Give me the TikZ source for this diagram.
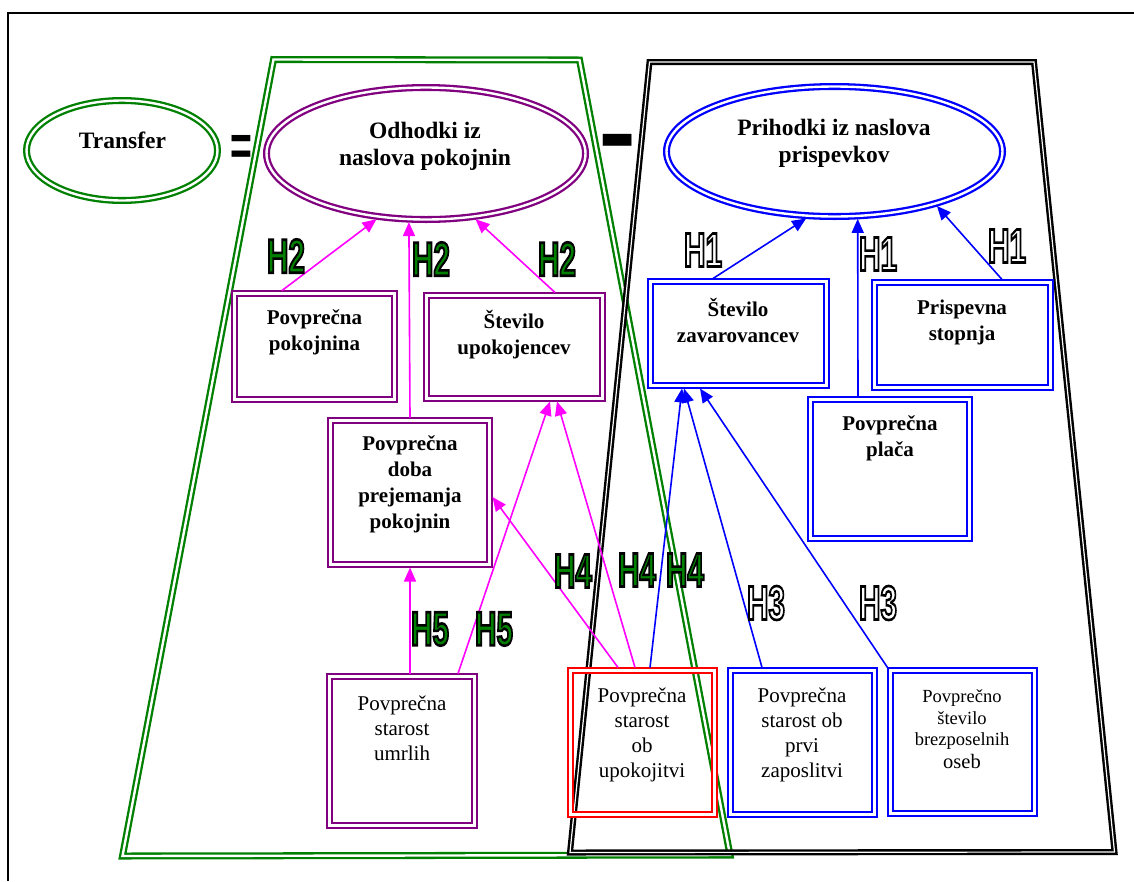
\documentclass[tikz,border=0pt]{standalone}
\usepackage{fontspec}
\setmainfont{Liberation Serif}
\newfontfamily\hfont{Liberation Sans}
\usetikzlibrary{shapes.geometric,arrows.meta,calc}
\definecolor{cpurple}{RGB}{128,0,128}
\definecolor{cmag}{RGB}{255,0,255}
\definecolor{cblue}{RGB}{0,0,255}
\definecolor{cgreen}{RGB}{0,128,0}
\definecolor{cred}{RGB}{255,0,0}
\newcommand{\hlab}[2]{\scalebox{0.62}[1]{\textcolor{#1}{\special{pdf:literal direct 2 Tr 2.6 w 0 0 0 RG}\hfont\bfseries #2\special{pdf:literal direct 0 Tr}}}}
\begin{document}
\begin{tikzpicture}[x=1pt,y=-1pt,
  dbl/.style={double=white, line width=2.3pt, double distance=2.4pt},
  rbox/.style={draw, dbl, rectangle, inner sep=0pt, outer sep=3pt},
  ell/.style={draw, dbl, ellipse, inner sep=0pt, outer sep=3pt},
  etxt/.style={font=\fontsize{23.5}{27}\selectfont\bfseries, align=center, inner sep=0pt},
  btxt/.style={font=\fontsize{21}{26}\selectfont\bfseries, align=center, inner sep=0pt},
  ntxt/.style={font=\fontsize{21}{25}\selectfont, align=center, inner sep=0pt},
  hl/.style={font=\fontsize{48}{48}\selectfont, inner sep=0pt},
  marr/.style={draw=cmag, line width=1.6pt, -{Triangle[length=14pt,width=12pt]}},
  barr/.style={draw=cblue, line width=1.6pt, -{Triangle[length=14pt,width=12pt]}}]
\useasboundingbox (0,0) rectangle (1134,881);
% frame
\draw[line width=1.5pt] (8,881) -- (8,13) -- (1134,13);
% trapezoids
\draw[dbl, draw=cgreen] (273.5,59.5) -- (579.5,60) -- (730,855) -- (122.5,856) -- cycle;
\draw[black, double=white, line width=2.4pt, double distance=1.2pt] (649.5,62) -- (1034,62) -- (1114.5,852) -- (570,852.5) -- cycle;
% ellipses
\node[ell, draw=cgreen, minimum width=191pt, minimum height=100pt] (tr) at (122,150.5) {};
\node[etxt] (trt) at (122.5,140) {Transfer};
\node[ell, draw=cpurple, minimum width=319pt, minimum height=132pt] (odh) at (426,153.5) {};
\node[etxt] (odht) at (425,146.5) {Odhodki iz\\naslova pokojnin};
\node[ell, draw=cblue, minimum width=336pt, minimum height=130pt] (pri) at (834.5,151.5) {};
\node[etxt] (prit) at (834,143.5) {Prihodki iz naslova\\prispevkov};
% = and -
\node[inner sep=0pt] (eq) at (241.5,150) {\hfont\bfseries\scalebox{1.1}[1.7]{\fontsize{34}{34}\selectfont =}};
\node[inner sep=0pt] (mn) at (618,153) {\hfont\bfseries\scalebox{1.45}[3]{\fontsize{40}{40}\selectfont –}};
% boxes
\node[rbox, draw=cpurple, minimum width=160pt, minimum height=106pt] (pk) at (314.5,346.5) {};
\node[btxt] (pkt) at (314.5,332) {Povprečna\\pokojnina};
\node[rbox, draw=cpurple, minimum width=176pt, minimum height=103pt] (su) at (514.5,347) {};
\node[btxt] (sut) at (514,334.5) {Število\\upokojencev};
\node[rbox, draw=cpurple, minimum width=159pt, minimum height=144pt] (doba) at (410,492.5) {};
\node[btxt] (dobat) at (410,484.5) {Povprečna\\doba\\prejemanja\\pokojnin};
\node[rbox, draw=cpurple, minimum width=145pt, minimum height=149pt] (umr) at (402,751) {};
\node[ntxt] (umrt) at (402,728) {Povprečna\\starost\\umrlih};
\node[rbox, draw=cred, minimum width=144pt, minimum height=144pt] (upk) at (642.5,742.5) {};
\node[ntxt] (upkt) at (642,734.5) {Povprečna\\starost\\ob\\upokojitvi};
\node[rbox, draw=cblue, minimum width=144pt, minimum height=144pt] (prv) at (802.5,742.5) {};
\node[ntxt] (prvt) at (802,734.5) {Povprečna\\starost ob\\prvi\\zaposlitvi};
\node[rbox, draw=cblue, minimum width=144pt, minimum height=143pt] (brz) at (962.5,742) {};
\node[align=center, inner sep=0pt, font=\fontsize{18.5}{21.5}\selectfont] (brzt) at (962,729) {Povprečno\\število\\brezposelnih\\[1pt]{\fontsize{20.5}{21}\selectfont oseb}};
\node[rbox, draw=cblue, minimum width=176pt, minimum height=104pt] (zav) at (738.5,333.5) {};
\node[btxt] (zavt) at (738,320.5) {Število\\zavarovancev};
\node[rbox, draw=cblue, minimum width=176pt, minimum height=105pt] (ps) at (962.5,335) {};
\node[btxt] (pst) at (962,322.5) {Prispevna\\stopnja};
\node[rbox, draw=cblue, minimum width=159pt, minimum height=139pt] (pl) at (890,469) {};
\node[btxt] (plt) at (890,438.5) {Povprečna\\plača};
% magenta connectors
\draw[marr] ($(pk.north)+(-32.5,0)$) -- (odh.233.6);
\draw[marr] (doba.north) -- (odh.256.9);
\draw[marr] ($(su.north)+(40.5,0)$) -- (odh.307.1);
\draw[marr] ($(umr.north)+(8,0)$) -- (doba.south);
\draw[marr] ($(umr.north)+(56,0)$) -- ($(su.south)+(35.5,0)$);
\draw[marr] ($(upk.north)+(-24.5,0)$) -- ($(doba.east)+(0,4.5)$);
\draw[marr] ($(upk.north)+(-7.5,0)$) -- ($(su.south)+(42.5,0)$);
% blue connectors
\draw[barr] ($(zav.north)+(-25.5,0)$) -- (pri.247.1);
\draw[barr] ($(pl.north)+(-32,0)$) -- (pri.289.5);
\draw[barr] ($(ps.north)+(39.5,0)$) -- (pri.332.5);
\draw[barr] ($(upk.north)+(7.5,0)$) -- ($(zav.south)+(-56.5,0)$);
\draw[barr] ($(prv.north)+(-40.5,0)$) -- ($(zav.south)+(-54.5,0)$);
\draw[barr] (brz.north west) -- ($(zav.south)+(-38.5,0)$);
% hypothesis labels
\node[hl] (h2a) at (286,256) {\hlab{cgreen}{H2}};
\node[hl] (h2b) at (431,259) {\hlab{cgreen}{H2}};
\node[hl] (h2c) at (557,259) {\hlab{cgreen}{H2}};
\node[hl] (h1a) at (703,250) {\hlab{white}{H1}};
\node[hl] (h1b) at (878,254) {\hlab{white}{H1}};
\node[hl] (h1c) at (1007,246) {\hlab{white}{H1}};
\node[hl] (h4a) at (573,571) {\hlab{cgreen}{H4}};
\node[hl] (h4b) at (637,570) {\hlab{cgreen}{H4}};
\node[hl] (h4c) at (685,570) {\hlab{cgreen}{H4}};
\node[hl] (h3a) at (766,603) {\hlab{white}{H3}};
\node[hl] (h3b) at (878,603) {\hlab{white}{H3}};
\node[hl] (h5a) at (430,629) {\hlab{cgreen}{H5}};
\node[hl] (h5b) at (494,629) {\hlab{cgreen}{H5}};
\end{tikzpicture}
\end{document}
